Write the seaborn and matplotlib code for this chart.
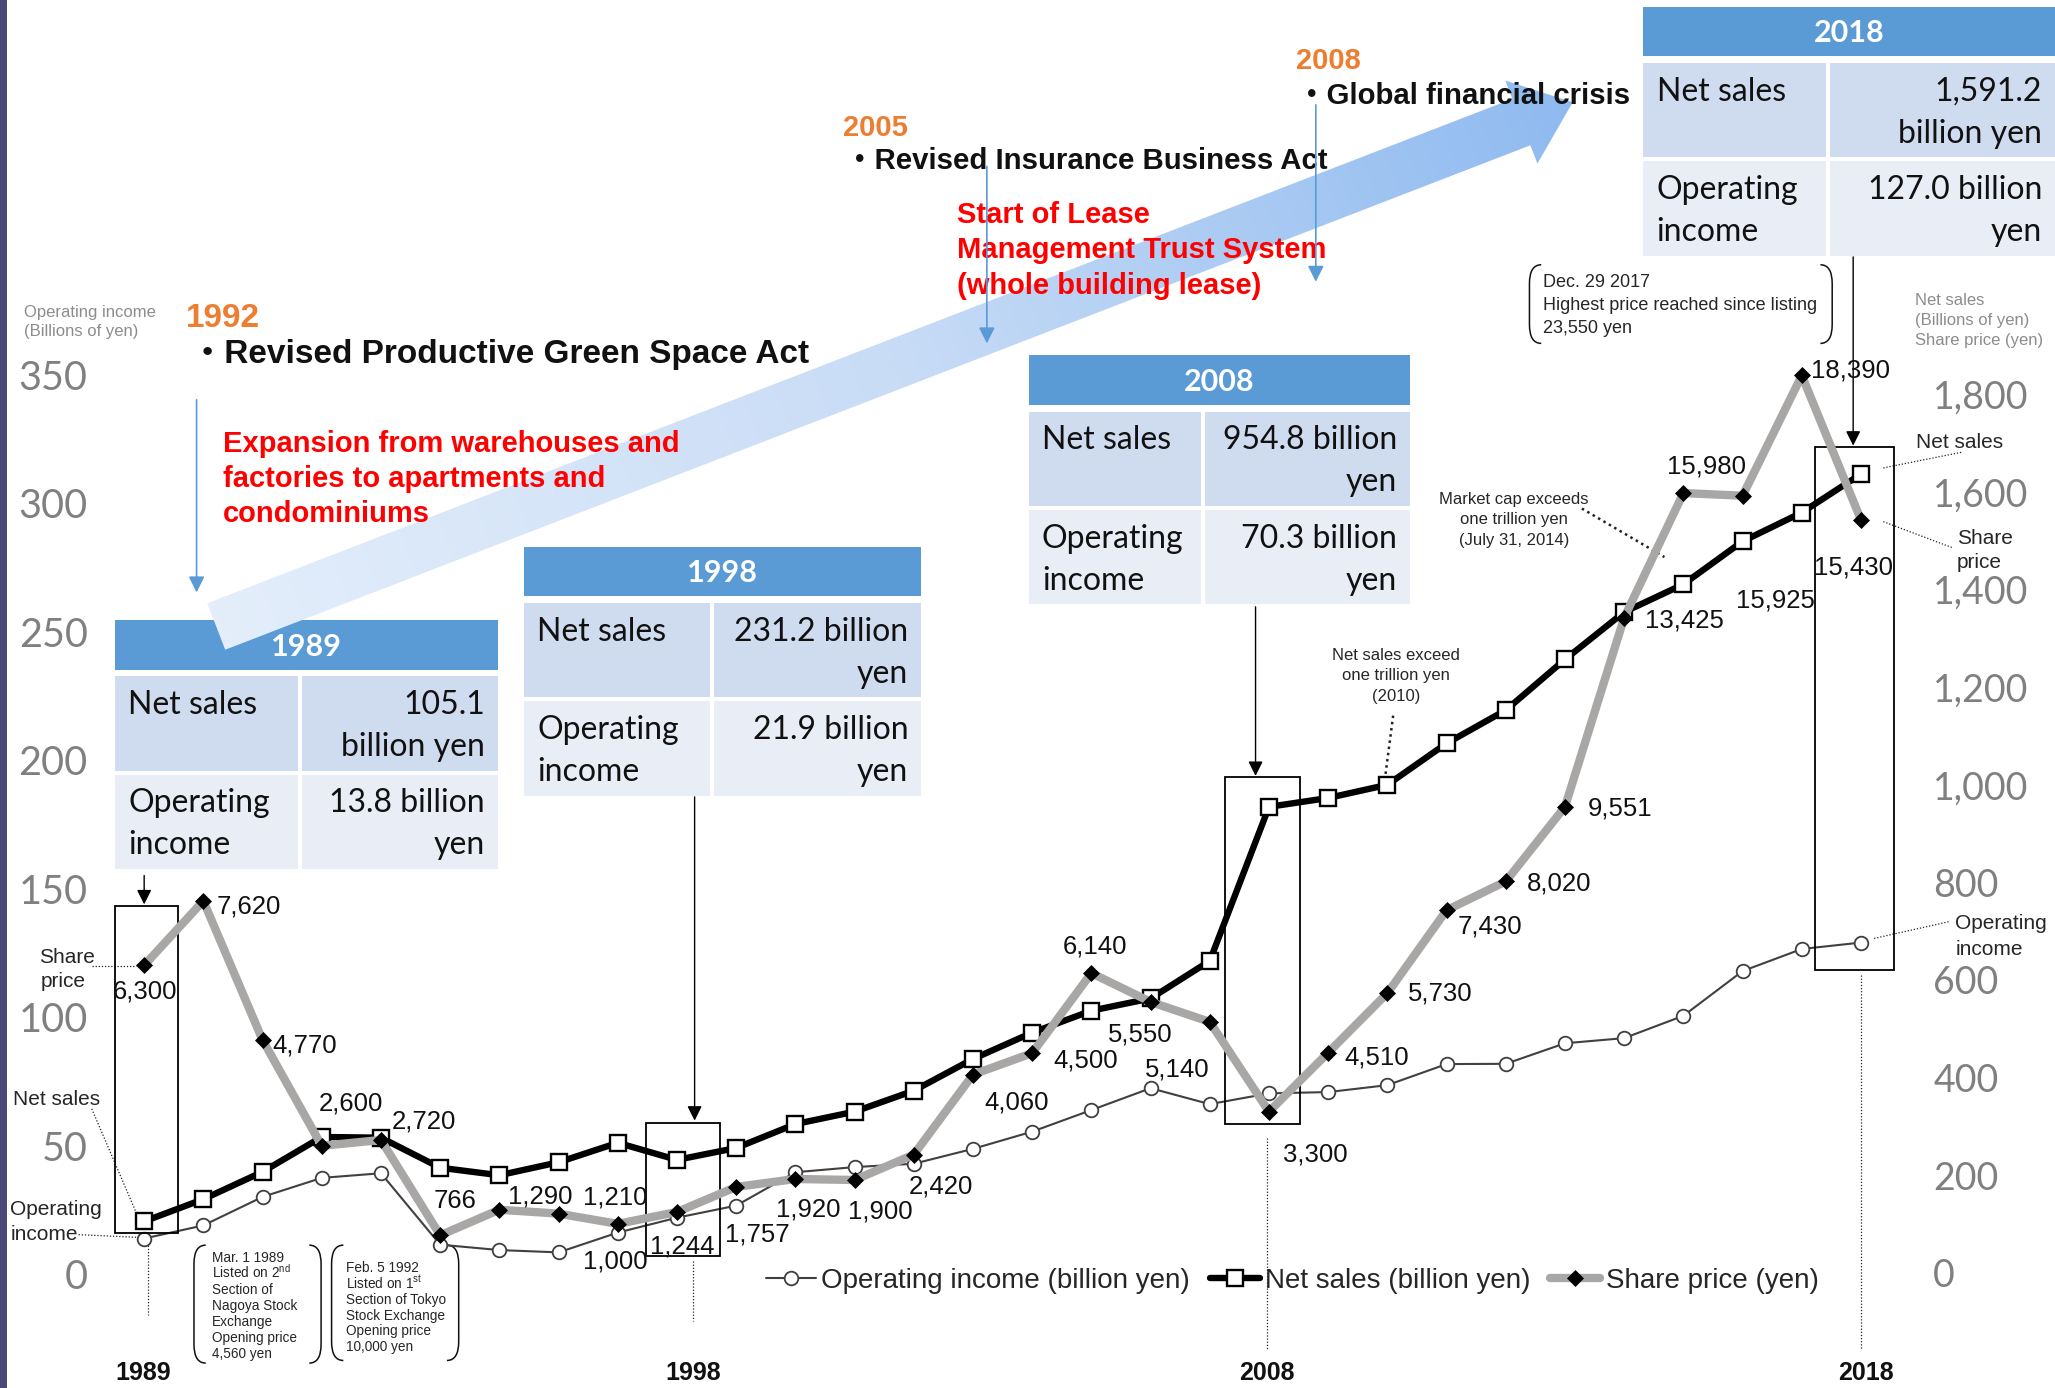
import numpy as np
import matplotlib
matplotlib.use("Agg")
import matplotlib.pyplot as plt
import seaborn as sns
from matplotlib.patches import Rectangle, Polygon, PathPatch
from matplotlib.path import Path
from matplotlib.colors import LinearSegmentedColormap

sns.set_style("white")
plt.rcParams["font.family"] = ["Liberation Sans", "DejaVu Sans"]
plt.rcParams["mathtext.fontset"] = "custom"
plt.rcParams["mathtext.rm"] = "Liberation Sans"
plt.rcParams["mathtext.it"] = "Liberation Sans:italic"
plt.rcParams["mathtext.bf"] = "Liberation Sans:bold"

ARIAL = ["Liberation Sans", "Noto Sans CJK JP", "DejaVu Sans"]
NARROW = ["Liberation Sans Narrow", "Liberation Sans", "Noto Sans CJK JP"]
CAL = ["Lato", "DejaVu Sans"]

# === data ===
years = list(range(1989, 2019))
net_sales = [105.1, 150.6, 206.7, 278.1, 276.7, 215.1, 199.7, 226.3, 266.2, 231.2,
             255.6, 304.6, 330, 373, 438, 492, 537, 562, 639, 954.8,
             973, 1000, 1085, 1153, 1257, 1354, 1411, 1499, 1558, 1637]
op_income = [13.8, 18.9, 30.0, 37.4, 39.2, 11.4, 9.3, 8.4, 16.1, 21.9,
             26.6, 39.6, 41.6, 42.9, 48.7, 55.4, 63.8, 72.3, 66.1, 70.3,
             70.8, 73.5, 81.7, 81.8, 89.8, 91.8, 100.5, 117.9, 126.5, 129.0]
share_price = [6300, 7620, 4770, 2600, 2720, 766, 1290, 1210, 1000, 1244,
               1757, 1920, 1900, 2420, 4060, 4500, 6140, 5550, 5140, 3300,
               4510, 5730, 7430, 8020, 9551, 13425, 15980, 15925, 18390, 15430]
left_ticks = [0, 50, 100, 150, 200, 250, 300, 350]
right_ticks = [0, 200, 400, 600, 800, 1000, 1200, 1400, 1600, 1800]

legend_labels = ["Operating income (billion yen)", "Net sales (billion yen)", "Share price (yen)"]

table_years = ["1989", "1998", "2008", "2018"]
table_sales = [["105.1", "billion yen"], ["231.2 billion", "yen"],
               ["954.8 billion", "yen"], ["1,591.2", "billion yen"]]
table_income = [["13.8 billion", "yen"], ["21.9 billion", "yen"],
                ["70.3 billion", "yen"], ["127.0 billion", "yen"]]

# label offsets from each share-price point (reference pixels)
lab_dx = [1, 35, 32, 22, 33, 11, 31, 43, -2, 4, 16, 10, 20, 21, 33, 41, 3, -8, -25, 35,
          37, 40, 33, 41, 42, 46, 18, 25, 37, -6]
lab_dy = [20, 4, 4.5, -32, -14, -26, -10, -12, 29, 26, 36, 23.5, 24, 24, 21, 5.5, -20.5, 24.6, 36, 33,
          4, 0, 12.5, 1.5, 1.5, 2, -20, 80, -3.5, 36]

ORANGE = "#ed7d31"
RED = "#ff0000"
BLUE = "#5b9bd5"
HEAD = "#5b9bd5"
ROW1 = "#cfdbee"
ROW2 = "#e9edf6"
GRAY = "#808080"

K = 0.9436  # reference px -> points

fig = plt.figure(figsize=(20.55, 13.88), dpi=100)
deco = fig.add_axes([0, 0, 1, 1], zorder=0)
deco.axis("off")

ax = fig.add_axes([0, 0, 1, 1], zorder=1)
ax.patch.set_visible(False)
ax2 = ax.twinx()
ax2.set_zorder(2)
ax2.patch.set_visible(False)


def T(x, y, s, size, ha="left", **kw):
    # y is the vertical centre of the capitals, in reference pixels
    kw.setdefault("family", ARIAL)
    deco.text(x, y + 0.36 * size * 1.06, s, fontsize=size, ha=ha, va="baseline", **kw)


def dotted(x0, y0, x1, y1, lw=0.9, color="#222222"):
    deco.plot([x0, x1], [y0, y1], ls=(0, (1, 1.5)), lw=lw, color=color, zorder=6)


def arrow(x, y0, y1, color="black", lw=1.0, ms=22):
    deco.annotate("", xy=(x, y1), xytext=(x, y0), zorder=6,
                  arrowprops=dict(arrowstyle="-|>", color=color, lw=lw,
                                  mutation_scale=ms, shrinkA=0, shrinkB=0))


def bracket(x0, y0, x1, y1, r=9):
    for xa, s in ((x0, 1), (x1, -1)):
        verts = [(xa + s * r, y0), (xa, y0), (xa, y0 + r * 1.6),
                 (xa, y1 - r * 1.6), (xa, y1), (xa + s * r, y1)]
        codes = [Path.MOVETO, Path.CURVE3, Path.CURVE3, Path.LINETO, Path.CURVE3, Path.CURVE3]
        deco.add_patch(PathPatch(Path(verts, codes), fill=False, lw=1.1, ec="#111111", zorder=6))


# === series ===
sns.lineplot(x=years, y=op_income, ax=ax, color="#404040", linewidth=1.5,
             marker="o", markersize=9.8, markerfacecolor="white",
             markeredgecolor="#404040", markeredgewidth=1.3, zorder=3)
sns.lineplot(x=years, y=net_sales, ax=ax2, color="black", linewidth=4.6,
             marker="s", markersize=11, markerfacecolor="white",
             markeredgecolor="black", markeredgewidth=1.7, zorder=3)
sns.lineplot(x=years, y=[v / 10 for v in share_price], ax=ax2, color="#a9a6a6",
             linewidth=6.0, marker="D", markersize=8.5, markerfacecolor="black",
             markeredgecolor="black", markeredgewidth=0.5, zorder=4)

for a in (ax, ax2):
    for sp in a.spines.values():
        sp.set_visible(False)
    a.set_xticks([])
    a.set_xlabel("")
    a.set_ylabel("")
    a.grid(False)

ax.set_xlim(1986.565, 2021.277)
ax.set_ylim(-44.39, 495.9)
ax2.set_ylim(-236.4, 2608.6)

ax.set_yticks(left_ticks, labels=[f"{v:,}" for v in left_ticks],
              fontsize=28.5, color=GRAY, family=CAL)
ax.tick_params(axis="y", length=0, pad=-63.2)
ax2.set_yticks(right_ticks, labels=[f"{v:,}" for v in right_ticks],
               fontsize=27, color=GRAY, family=CAL)
ax2.tick_params(axis="y", length=0, pad=-87.7)

# share price labels
for yr, v, dx, dy in zip(years, share_price, lab_dx, lab_dy):
    ax2.annotate(f"{v:,}", xy=(yr, v / 10), xytext=(dx * K, -dy * K),
                 textcoords="offset points", ha="center", va="center",
                 fontsize=18.5, color="#111111", zorder=8)

# year boxes
boxes = [(1988.51, 1989.58, 81, 752), (1997.47, 1998.73, 35, 306),
         (2007.25, 2008.53, 304, 1016), (2017.23, 2018.55, 621, 1693)]
for x0, x1, y0, y1 in boxes:
    ax2.add_patch(Rectangle((x0, y0), x1 - x0, y1 - y0, fill=False,
                            ec="black", lw=1.3, zorder=2))

# legend
handles = [ax.lines[0], ax2.lines[0], ax2.lines[1]]
leg = ax2.legend(handles, legend_labels, ncol=3, loc="center",
                 bbox_to_anchor=(0.6288, 0.0774), bbox_transform=fig.transFigure,
                 frameon=False, handlelength=1.8, handletextpad=0.2, columnspacing=0.7,
                 prop=dict(family=ARIAL, size=20))
leg.set_zorder(9)

# === decoration (reference-pixel coordinates) ===
deco.add_patch(Rectangle((0, 0), 5, 1059, fc="#4a4878", ec="none", zorder=10))

# big gradient arrow
Tp = np.array([165.0, 478.0])
Pp = np.array([1200.0, 78.0])
L = np.linalg.norm(Pp - Tp)
u = (Pp - Tp) / L
n = np.array([-u[1], u[0]])
w, hw, hl = 19, 34, 42
base = Pp - u * hl
pts = np.array([Tp - n * w, base - n * w, base - n * hw, Pp, base + n * hw, base + n * w, Tp + n * w])
poly = Polygon(pts, closed=True, fc="none", ec="none")
deco.add_patch(poly)
xmn, ymn = pts.min(axis=0)
xmx, ymx = pts.max(axis=0)
gx = np.linspace(xmn, xmx, 500)
gy = np.linspace(ymn, ymx, 250)
GX, GY = np.meshgrid(gx, gy)
tt = np.clip(((GX - Tp[0]) * u[0] + (GY - Tp[1]) * u[1]) / L, 0, 1)
cmap = LinearSegmentedColormap.from_list("arr", ["#e4eefb", "#c8dcf6", "#8fbaf0"])
im = deco.imshow(tt, extent=(xmn, xmx, ymx, ymn), origin="upper", cmap=cmap,
                 vmin=0, vmax=1, aspect="auto", zorder=3, interpolation="bilinear")
im.set_clip_path(poly)

deco.set_xlim(0, 1568)
deco.set_ylim(1059, 0)

# tables
table_geom = [(88, 229, 380, 473), (400, 543, 703, 417), (785, 918, 1076, 271), (1254, 1395, 1568, 5)]
for (x0, xs, x1, y0), yr, sales, inc in zip(table_geom, table_years, table_sales, table_income):
    deco.add_patch(Rectangle((x0, y0), x1 - x0, 38, fc=HEAD, ec="none", zorder=2))
    T((x0 + x1) / 2, y0 + 19, yr, 22, ha="center", color="white", weight="bold", family=CAL, zorder=4)
    for ry, col, right, left in ((y0 + 43, ROW1, sales, ["Net sales"]),
                                 (y0 + 118, ROW2, inc, ["Operating", "income"])):
        deco.add_patch(Rectangle((x0, ry), xs - x0 - 1.5, 72, fc=col, ec="none", zorder=2))
        deco.add_patch(Rectangle((xs + 1.5, ry), x1 - xs - 1.5, 72, fc=col, ec="none", zorder=2))
        for k, s in enumerate(left):
            T(x0 + 10, ry + 20 + k * 32, s, 23, color="#111111", family=CAL, zorder=4)
        for k, s in enumerate(right):
            T(x1 - 10, ry + 20 + k * 32, s, 23, ha="right", color="#111111", family=CAL, zorder=4)

# arrows from tables down to boxes
arrow(110, 668, 690)
arrow(530, 608, 855)
arrow(958, 463, 592)
arrow(1414, 196, 340)

# dotted drop lines
dotted(113, 945, 113, 1003)
dotted(529, 962, 529, 1008)
dotted(967, 868, 967, 1030)
dotted(1420, 744, 1420, 1030)

for x, s in ((109, "1989"), (529, "1998"), (967, "2008"), (1424, "2018")):
    T(x, 1046, s, 18, ha="center", weight="bold", family=NARROW, color="#111111")

# events
T(142, 240, "1992", 24, color=ORANGE, weight="bold", zorder=5)
T(146, 268, "・Revised Productive Green Space Act", 24, weight="bold", color="#111111", zorder=5)
for k, s in enumerate(["Expansion from warehouses and", "factories to apartments and", "condominiums"]):
    T(170, 337 + k * 26.5, s, 21, color=RED, weight="bold", zorder=5)
arrow(150, 305, 452, color=BLUE, lw=1.2, ms=24)

T(643, 96, "2005", 21, color=ORANGE, weight="bold", zorder=5)
T(645, 121, "・Revised Insurance Business Act", 21.2, weight="bold", color="#111111", zorder=5)
for k, s in enumerate(["Start of Lease", "Management Trust System", "(whole building lease)"]):
    T(730, 162 + k * 27, s, 21, color=RED, weight="bold", zorder=5)
arrow(753, 127, 262, color=BLUE, lw=1.2, ms=24)

T(989, 45, "2008", 21, color=ORANGE, weight="bold", zorder=5)
T(990, 71, "・Global financial crisis", 21.2, weight="bold", color="#111111", zorder=5)
arrow(1004, 80, 215, color=BLUE, lw=1.2, ms=24)

# axis headers
T(18, 237, "Operating income", 12, color="#8c8c8c")
T(18, 252, "(Billions of yen)", 12, color="#8c8c8c")
for k, s in enumerate(["Net sales", "(Billions of yen)", "Share price (yen)"]):
    T(1461, 228 + k * 15.5, s, 12, color="#8c8c8c")

# series name leaders
T(51, 729, "Share", 15, ha="center")
T(48, 747, "price", 15, ha="center")
dotted(70, 737, 104, 737)
T(43, 837, "Net sales", 15, ha="center")
dotted(70, 846, 106, 930)
T(8, 921, "Operating", 15)
T(8, 940, "income", 15)
dotted(60, 942, 104, 944)

T(1462, 336, "Net sales", 15)
dotted(1437, 357, 1497, 345)
T(1493, 409, "Share", 15)
T(1493, 428, "price", 15)
dotted(1437, 398, 1490, 418)
T(1492, 703, "Operating", 15)
T(1492, 723, "income", 15)
dotted(1430, 716, 1488, 703)

# notes
for k, s in enumerate(["Market cap exceeds", "one trillion yen", "(July 31, 2014)"]):
    T(1155, 380 + k * 15.5, s, 12, ha="center")
dotted(1207, 388, 1270, 425, lw=1.8)
for k, s in enumerate(["Net sales exceed", "one trillion yen", "(2010)"]):
    T(1065, 499 + k * 15.5, s, 12, ha="center")
dotted(1063, 546, 1057, 592, lw=1.8)

bracket(148, 950, 245, 1040)
for k, s in enumerate(["Mar. 1 1989", r"Listed on 2$^{\rm nd}$", "Section of", "Nagoya Stock",
                       "Exchange", "Opening price", "4,560 yen"]):
    T(162, 959 + k * 12.2, s, 9.8)
bracket(253, 950, 350, 1038)
for k, s in enumerate(["Feb. 5 1992", r"Listed on 1$^{\rm st}$", "Section of Tokyo",
                       "Stock Exchange", "Opening price", "10,000 yen"]):
    T(264, 967 + k * 12.0, s, 9.8)
bracket(1167, 202, 1398, 262)
for k, s in enumerate(["Dec. 29 2017", "Highest price reached since listing", "23,550 yen"]):
    T(1177, 214 + k * 17.5, s, 13)

fig.savefig("out.png", dpi=100)
